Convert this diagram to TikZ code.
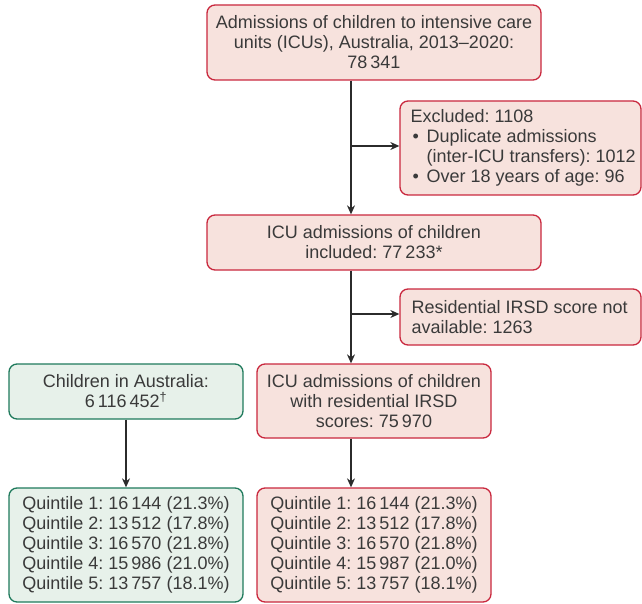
\documentclass[tikz,border=0pt]{standalone}
\usepackage{fontspec}
\setmainfont{Liberation Sans}
\usetikzlibrary{arrows.meta,calc}
\definecolor{redline}{HTML}{C9283E}
\definecolor{redfill}{HTML}{F7E2DD}
\definecolor{greenline}{HTML}{1F7A5C}
\definecolor{greenfill}{HTML}{E7F1EA}
\definecolor{txt}{HTML}{3A3A3A}
\definecolor{arrowc}{HTML}{2B2B2B}
\newcommand{\blt}{\makebox[16pt][l]{\hspace{2pt}•}}
\frenchspacing
\begin{document}
\begin{tikzpicture}[x=1pt,y=-1pt,
  every node/.style={font=\fontsize{18}{20}\selectfont, text=txt},
  box/.style={draw, rounded corners=8pt, line width=1.3pt, inner sep=0pt, align=center},
  redbox/.style={box, draw=redline, fill=redfill},
  greenbox/.style={box, draw=greenline, fill=greenfill},
  lefttext/.style={anchor=west, align=left, inner sep=0pt},
  arr/.style={draw=arrowc, line width=1.2pt, -{Stealth[length=9pt,width=8pt]}}
]
\useasboundingbox (0,0) rectangle (642,604);

\node[redbox, minimum width=334pt, minimum height=75pt] (top) at (374,42.5)
  {Admissions of children to intensive care\\ units (ICUs), Australia, 2013–2020:\\ 78\,341};

\node[redbox, minimum width=241pt, minimum height=94pt] (excl) at (520.5,148) {};
\node[lefttext] (excltxt) at ([xshift=11pt]excl.west)
  {Excluded: 1108\\ \blt Duplicate admissions\\ \hspace*{16pt}(inter-ICU transfers): 1012\\ \blt Over 18 years of age: 96};

\node[redbox, minimum width=334pt, minimum height=55pt] (incl) at (374,242.5)
  {ICU admissions of children\\ included: 77\,233*};

\node[redbox, minimum width=241pt, minimum height=56pt] (resid) at (520.5,317) {};
\node[lefttext] (residtxt) at ([xshift=12pt]resid.west)
  {Residential IRSD score not\\ available: 1263};

\node[greenbox, minimum width=234pt, minimum height=55pt] (kids) at (126,391.5)
  {Children in Australia:\\ 6\,116\,452\textsuperscript{†}};

\node[redbox, minimum width=234pt, minimum height=74pt] (irsd) at (374,401)
  {ICU admissions of children\\ with residential IRSD\\ scores: 75\,970};

\node[greenbox, minimum width=234pt, minimum height=114pt] (gq) at (126,545)
  {Quintile 1: 16\,144 (21.3\%)\\ Quintile 2: 13\,512 (17.8\%)\\ Quintile 3: 16\,570 (21.8\%)\\ Quintile 4: 15\,986 (21.0\%)\\ Quintile 5: 13\,757 (18.1\%)};

\node[redbox, minimum width=234pt, minimum height=114pt] (rq) at (374,545)
  {Quintile 1: 16\,144 (21.3\%)\\ Quintile 2: 13\,512 (17.8\%)\\ Quintile 3: 16\,570 (21.8\%)\\ Quintile 4: 15\,987 (21.0\%)\\ Quintile 5: 13\,757 (18.1\%)};

\coordinate (trunk) at (351,0);

\draw[arr] (trunk |- top.south) -- (trunk |- incl.north);
\draw[arr] (trunk |- excl.west) ++(0,-2) -- ([yshift=2pt]excl.west);
\draw[arr] (trunk |- incl.south) -- (trunk |- irsd.north);
\draw[arr] (trunk |- resid.west) ++(0,-3) -- ([yshift=3pt]resid.west);
\draw[arr] (kids.south) -- (gq.north);
\draw[arr] (trunk |- irsd.south) -- (trunk |- rq.north);
\end{tikzpicture}
\end{document}
